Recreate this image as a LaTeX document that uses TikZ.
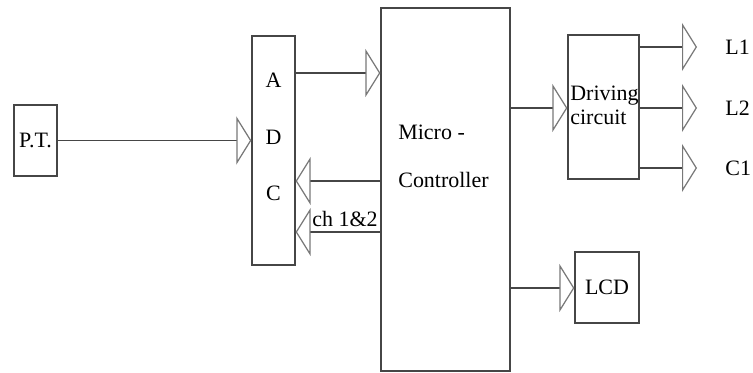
\documentclass[tikz,border=0pt]{standalone}
\usepackage{fontspec}
\setmainfont{Liberation Serif}
\usetikzlibrary{arrows.meta,positioning}
\definecolor{linegray}{RGB}{70,70,70}
\definecolor{tipgray}{RGB}{120,120,120}

\begin{document}
\begin{tikzpicture}[x=0.02cm, y=-0.02cm,
  font=\fontsize{12.5}{14}\selectfont,
  blk/.style={rectangle, draw=linegray, line width=0.7pt, inner sep=0pt},
  sig/.style={draw=linegray, line width=0.7pt, -{Triangle[open, length=0.3cm, width=0.96cm, color=tipgray]}},
  txt/.style={inner sep=0pt, align=left}]

\useasboundingbox (0,0) rectangle (753,372);

\node[blk, minimum width=0.86cm, minimum height=1.42cm] (pt) at (35.5,140.5) {P.T.};

\node[blk, minimum width=0.86cm, minimum height=4.58cm] (adc) at (273.5,150.5) {};
\foreach \ch/\yy in {A/80,D/137,C/193}
  \node[txt] at (273.5,\yy) {\ch};

\node[blk, minimum width=2.58cm, minimum height=7.26cm] (mc) at (445.5,189.5) {};
\node[txt, anchor=west] (mctxt1) at (398,132) {Micro -};
\node[txt, anchor=west] (mctxt2) at (398,180) {Controller};

\node[blk, minimum width=1.42cm, minimum height=2.88cm] (drv) at (603.5,107) {};
\node[txt, anchor=west, font=\fontsize{12.5}{13.5}\selectfont] (drvtxt) at (570,105) {Driving\\circuit};

\node[blk, minimum width=1.28cm, minimum height=1.42cm] (lcd) at (607,287.5) {LCD};

% inputs of the ADC
\draw[sig] (pt.east) -- (pt.east -| adc.west);
\draw[sig] (mc.west |- 0,181) -- (adc.east |- 0,181);
\draw[sig] (mc.west |- 0,232) -- (adc.east |- 0,232);
\node[txt, anchor=west] (ch) at (312,219) {ch 1\&2};

% outputs of the micro-controller
\draw[sig] (adc.east |- 0,73) -- (mc.west |- 0,73);
\draw[sig] (mc.east |- 0,108) -- (drv.west |- 0,108);
\draw[sig] (mc.east |- 0,288) -- (lcd.west |- 0,288);

% outputs of the driving circuit
\foreach \lbl/\yy in {L1/47,L2/108,C1/168}{
  \coordinate (out\lbl) at (697,\yy);
  \draw[sig] (drv.east |- out\lbl) -- (out\lbl);
  \node[txt, anchor=west] at (725,\yy) {\lbl};
}

\end{tikzpicture}
\end{document}
